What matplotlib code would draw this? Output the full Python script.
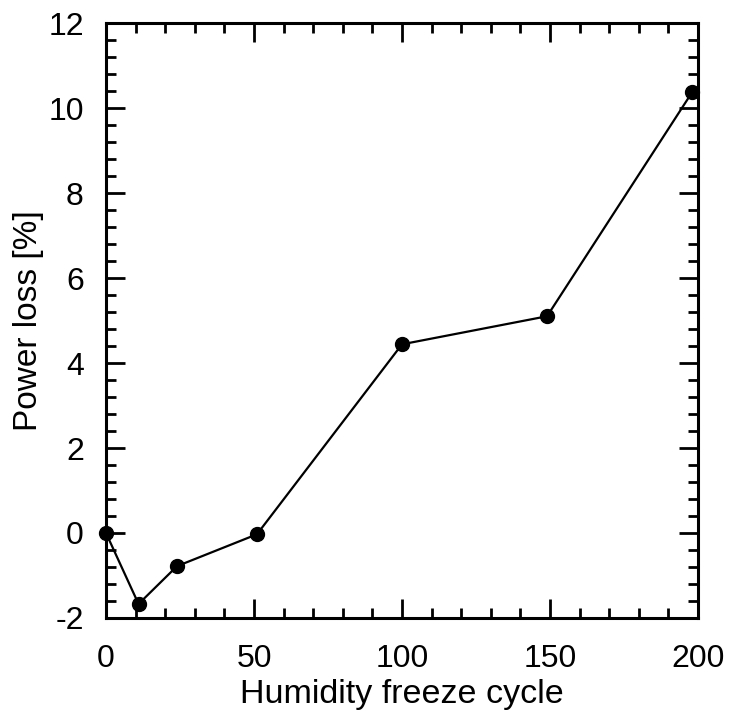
import matplotlib
matplotlib.use("Agg")
import matplotlib.pyplot as plt
from matplotlib.ticker import MultipleLocator

# data
cycles = [0, 11, 24, 51, 100, 149, 198]
power_loss = [0.0, -1.67, -0.78, -0.03, 4.44, 5.10, 10.37]
y_ticks = [-2, 0, 2, 4, 6, 8, 10, 12]

plt.rcParams['font.family'] = ['Liberation Sans', 'DejaVu Sans']

fig = plt.figure(figsize=(7.34, 7.28), dpi=100)
ax = fig.add_axes([0.1444, 0.1511, 0.8066, 0.8173])

ax.plot(cycles, power_loss, color='black', linewidth=1.6,
        marker='o', markersize=10, clip_on=False, zorder=3)

ax.xaxis.set_major_locator(MultipleLocator(50))
ax.xaxis.set_minor_locator(MultipleLocator(10))
ax.set_yticks(y_ticks)
ax.set_yticklabels([str(v) for v in y_ticks])  # plain hyphen like the original
ax.yaxis.set_minor_locator(MultipleLocator(0.4))
ax.set_xlim(0, 200)
ax.set_ylim(-2, 12)

ax.tick_params(which='both', direction='in', top=True, right=True,
               width=2, labelsize=23, color='black')
ax.tick_params(which='major', length=14)
ax.tick_params(which='minor', length=7)
ax.tick_params(axis='x', which='major', pad=18.5)
ax.tick_params(axis='y', which='major', pad=16)
for s in ax.spines.values():
    s.set_linewidth(2.2)

ax.set_xlabel('Humidity freeze cycle', fontsize=24.5, labelpad=3.5)
ax.set_ylabel('Power loss [%]', fontsize=24, labelpad=3)

fig.savefig('out.png', dpi=100)
